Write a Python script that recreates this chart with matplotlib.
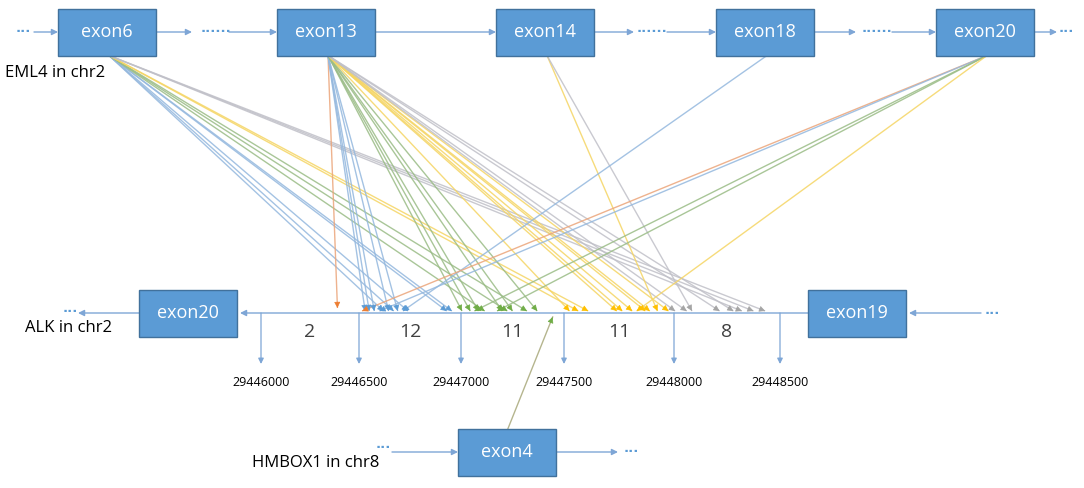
import matplotlib
matplotlib.use('Agg')
import matplotlib.pyplot as plt
from matplotlib.patches import Rectangle
import numpy as np

plt.rcParams['font.family'] = ['Open Sans', 'DejaVu Sans']

# ---- data ----
eml4_exons = ['exon6', 'exon13', 'exon14', 'exon18', 'exon20']
alk_exons = ['exon20', 'exon19']
hmbox1_exon = 'exon4'

alk_ticks = [29446000, 29446500, 29447000, 29447500, 29448000, 29448500]
bin_counts = [2, 12, 11, 11, 8]

# breakpoints on ALK for each EML4 exon (position, colour group)
fus_exon = []
fus_pos = []
fus_grp = []
def add(exon, grp, positions):
    for p in positions:
        fus_exon.append(exon)
        fus_pos.append(p)
        fus_grp.append(grp)

add('exon6', 'blue', [29446620, 29446670, 29446740, 29446930, 29446955])
add('exon6', 'green', [29447115, 29447225, 29447320])
add('exon6', 'yellow', [29447565, 29447610])
add('exon6', 'gray', [29448320, 29448375, 29448430])
add('exon13', 'orange', [29446390])
add('exon13', 'blue', [29446530, 29446550, 29446575, 29446645, 29446690])
add('exon13', 'green', [29447005, 29447045, 29447085, 29447200, 29447250, 29447370])
add('exon13', 'yellow', [29447525, 29447740, 29447765, 29447810, 29447870, 29447890, 29447975])
add('exon13', 'gray', [29448005, 29448060, 29448215, 29448280])
add('exon14', 'yellow', [29447925])
add('exon14', 'gray', [29448085])
add('exon18', 'blue', [29446715])
add('exon20', 'orange', [29446515])
add('exon20', 'blue', [29446600])
add('exon20', 'green', [29447065, 29447175])
add('exon20', 'yellow', [29447830])

hmbox1_pos = 29447445

# ---- layout / style ----
W, H = 1084, 488
blue = '#5B9BD5'
edge = '#41719C'
conn = '#7EA6D6'
grp_col = {'blue': '#5B9BD5', 'orange': '#ED7D31', 'green': '#70AD47',
           'yellow': '#FFC000', 'gray': '#A5A5A5'}
line_col = {'blue': '#94B8DE', 'orange': '#EBA57A', 'green': '#9ABC86',
            'yellow': '#F5D564', 'gray': '#C0C0C8'}

top_y = 32
top_cx = [107, 326, 545, 765, 985]
alk_y = 313
alk_cx = [188, 857]
hm_y = 452
hm_cx = 507
bw, bh = 98, 47
tick_px = [261, 359, 461, 564, 674, 780]

fig = plt.figure(figsize=(W / 100, H / 100), dpi=100)
ax = fig.add_axes([0, 0, 1, 1])
ax.set_xlim(0, W)
ax.set_ylim(H, 0)
ax.axis('off')


def gx(pos):
    return np.interp(pos, alk_ticks, tick_px)


def box(cx, cy, label):
    ax.add_patch(Rectangle((cx - bw / 2, cy - bh / 2), bw, bh, facecolor=blue,
                           edgecolor=edge, lw=1, zorder=3))
    ax.text(cx, cy, label, color='white', fontsize=13, ha='center', va='center', zorder=4)


def arrow(x0, y0, x1, y1, col=conn, lw=1.0, ms=9, alpha=1.0, z=2):
    ax.annotate('', xy=(x1, y1), xytext=(x0, y0),
                arrowprops=dict(arrowstyle='-|>', color=col, lw=lw, mutation_scale=ms,
                                shrinkA=0, shrinkB=0, alpha=alpha), zorder=z)


def dots(x, y, n):
    ax.text(x, y, '·' * n, color=blue, fontsize=9.5, fontweight='bold',
            ha='left', va='center', family='DejaVu Sans')


# EML4 row
for cx, name in zip(top_cx, eml4_exons):
    box(cx, top_y, name)
dots(16, top_y, 3)
arrow(34, top_y, top_cx[0] - bw / 2, top_y)
arrow(top_cx[0] + bw / 2, top_y, 192, top_y)
dots(201, top_y, 6)
arrow(229, top_y, top_cx[1] - bw / 2, top_y)
arrow(top_cx[1] + bw / 2, top_y, top_cx[2] - bw / 2, top_y)
arrow(top_cx[2] + bw / 2, top_y, 634, top_y)
dots(637, top_y, 6)
arrow(667, top_y, top_cx[3] - bw / 2, top_y)
arrow(top_cx[3] + bw / 2, top_y, 856, top_y)
dots(862, top_y, 6)
arrow(892, top_y, top_cx[4] - bw / 2, top_y)
arrow(top_cx[4] + bw / 2, top_y, 1057, top_y)
dots(1059, top_y, 3)
ax.text(5, 73, 'EML4 in chr2', fontsize=12, ha='left', va='center', color='black')

# ALK row (reverse strand)
for cx, name in zip(alk_cx, alk_exons):
    box(cx, alk_y, name)
arrow(alk_cx[0] - bw / 2, alk_y, 78, alk_y)
dots(63, alk_y - 2, 3)
arrow(alk_cx[1] - bw / 2, alk_y, alk_cx[0] + bw / 2 + 3, alk_y)
arrow(981, alk_y, alk_cx[1] + bw / 2 + 3, alk_y)
dots(985, alk_y, 3)
ax.text(25, 328, 'ALK in chr2', fontsize=12, ha='left', va='center', color='black')

for t, px in zip(alk_ticks, tick_px):
    arrow(px, alk_y, px, 364, lw=0.9, ms=8)
    ax.text(px, 382, str(t), fontsize=9, ha='center', va='center', color='black')

for i, c in enumerate(bin_counts):
    ax.text((tick_px[i] + tick_px[i + 1]) / 2, 332, str(c), fontsize=14,
            ha='center', va='center', color='#404040')

# HMBOX1 row
box(hm_cx, hm_y, hmbox1_exon)
dots(376, hm_y - 5, 3)
arrow(392, hm_y, hm_cx - bw / 2, hm_y)
arrow(hm_cx + bw / 2, hm_y, 618, hm_y)
dots(624, hm_y, 3)
ax.text(252, 463, 'HMBOX1 in chr8', fontsize=12, ha='left', va='center', color='black')

# fusion links
src_y = top_y + bh / 2
for ex, pos, g in zip(fus_exon, fus_pos, fus_grp):
    sx = top_cx[eml4_exons.index(ex)] + 2
    tx = gx(pos)
    ty = 308 if (ex == 'exon13' and g == 'orange') else 311
    ax.plot([sx, tx], [src_y, ty], color=line_col[g], lw=1.0, alpha=0.85, zorder=1,
            solid_capstyle='butt')
    d = np.array([tx - sx, ty - src_y])
    d = d / np.hypot(*d)
    arrow(tx - d[0] * 6, ty - d[1] * 6, tx, ty, col=grp_col[g], lw=0.5, ms=9, z=2)

# HMBOX1 exon4 -> ALK
tx = gx(hmbox1_pos)
ax.plot([hm_cx + 1, tx], [hm_y - bh / 2, 317], color='#B5B58E', lw=1.0, zorder=1)
d = np.array([tx - hm_cx - 1, 317 - (hm_y - bh / 2)])
d = d / np.hypot(*d)
arrow(tx - d[0] * 6, 317 - d[1] * 6, tx, 317, col=grp_col['green'], lw=0.5, ms=9)

fig.savefig('out.png', dpi=100)
